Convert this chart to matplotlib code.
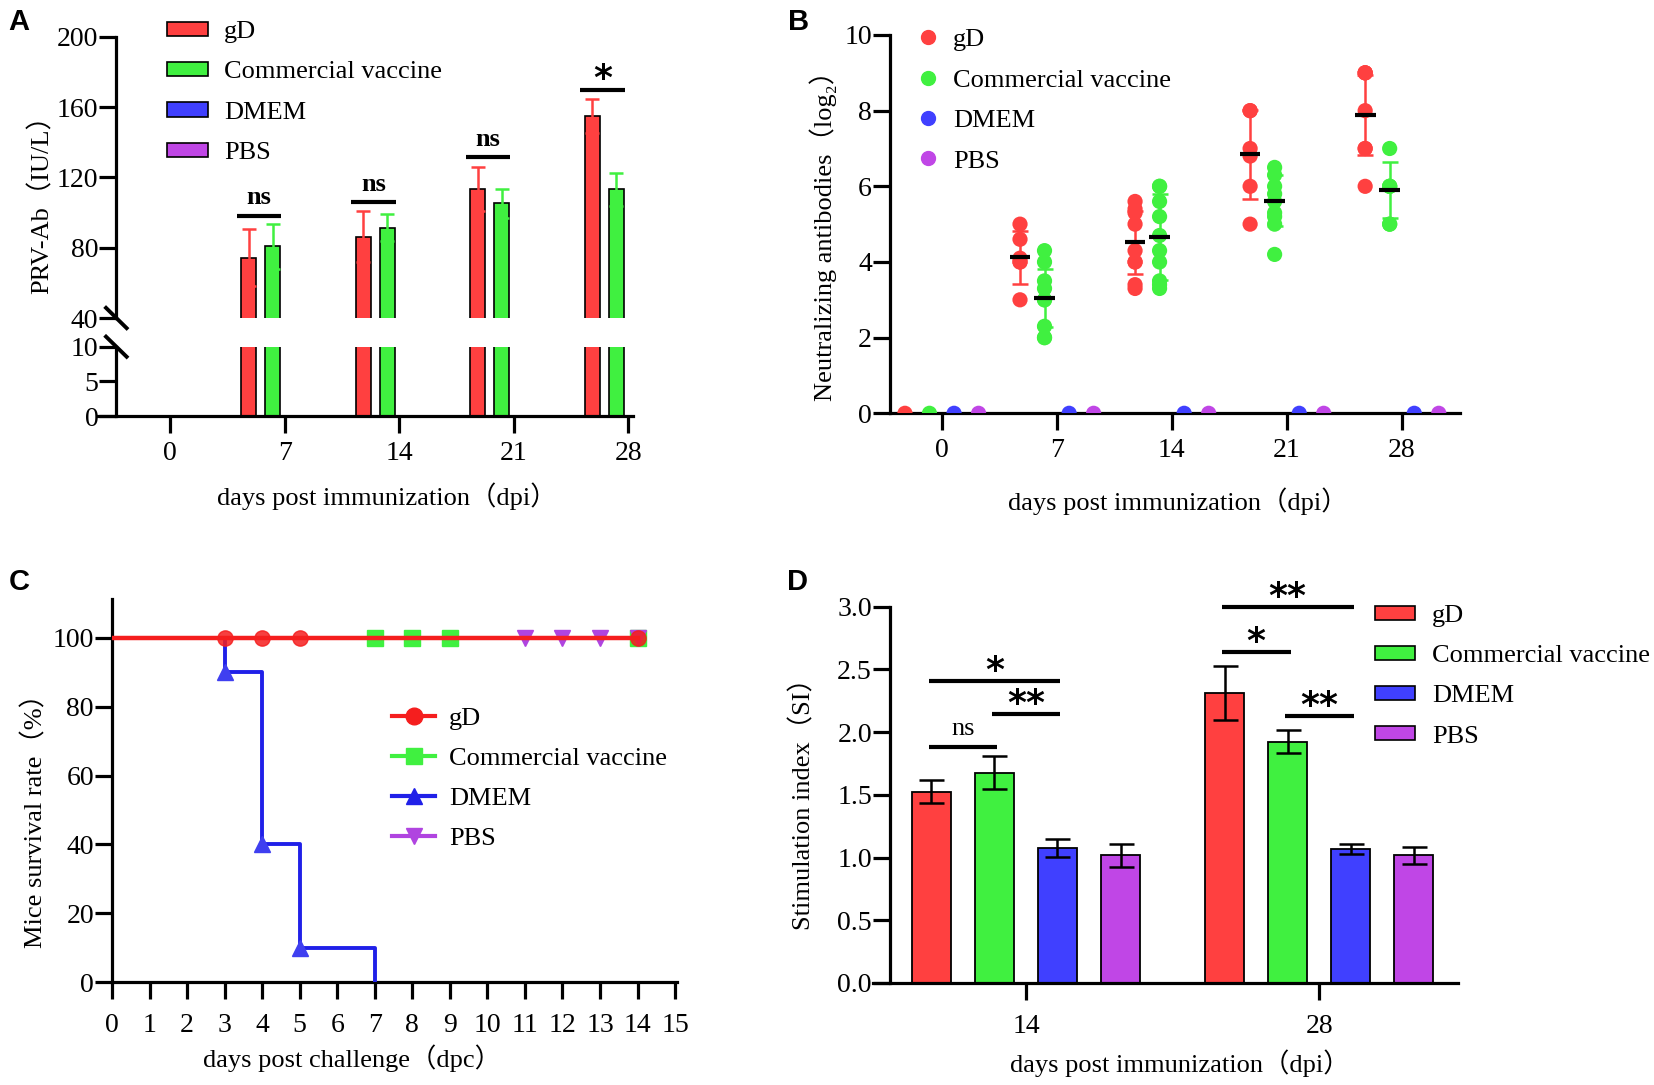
import matplotlib.pyplot as plt
import matplotlib.transforms as mtransforms
from matplotlib.patches import Patch
from matplotlib.lines import Line2D
import numpy as np

plt.rcParams['font.family'] = ['Liberation Serif', 'Noto Sans CJK SC', 'DejaVu Sans']
plt.rcParams['axes.linewidth'] = 2.3

W, H = 1654, 1085

# ---- shared ----
groups = ['gD', 'Commercial vaccine', 'DMEM', 'PBS']
colors = ['#FF4040', '#40F040', '#4040FF', '#C046E6']

# ---- A: PRV-Ab ----
dpi_days = ['0', '7', '14', '21', '28']
prv_gd = [0, 74.3, 86.3, 113.5, 154.8]
prv_gd_sd = [0, 16.3, 14.5, 12.4, 9.7]
prv_cv = [0, 80.8, 91.4, 105.3, 113.1]
prv_cv_sd = [0, 12.7, 7.8, 8.2, 9.5]
prv_dmem = [0, 0, 0, 0, 0]
prv_pbs = [0, 0, 0, 0, 0]
prv_sig = ['ns', 'ns', 'ns', '*']          # days 7..28
prv_sig_y = [98.3, 105.7, 131.6, 169.6]

# ---- B: neutralizing antibodies ----
nab_gd = [[0], [5.0, 4.6, 4.0, 4.0, 4.1, 3.0],
          [5.6, 5.4, 5.3, 5.0, 4.3, 4.0, 4.0, 3.4, 3.3],
          [8.0, 8.0, 7.0, 6.8, 6.0, 5.0],
          [9.0, 9.0, 9.0, 8.0, 7.0, 7.0, 6.0]]
nab_gd_mean = [0, 4.12, 4.52, 6.85, 7.89]
nab_gd_sd = [0, 0.71, 0.84, 1.18, 1.06]
nab_cv = [[0], [4.3, 4.0, 3.5, 3.3, 3.0, 3.0, 2.3, 2.0, 2.0],
          [6.0, 6.0, 5.6, 5.2, 4.7, 4.3, 4.0, 3.5, 3.4, 3.3],
          [6.5, 6.3, 6.0, 5.8, 5.6, 5.3, 5.2, 5.0, 4.2],
          [7.0, 6.0, 6.0, 6.0, 5.0, 5.0]]
nab_cv_mean = [0, 3.04, 4.67, 5.62, 5.89]
nab_cv_sd = [0, 0.77, 1.14, 0.68, 0.74]
nab_dmem = [[0], [0], [0], [0], [0]]
nab_pbs = [[0], [0], [0], [0], [0]]

# ---- C: survival ----
dpc_ticks = list(range(16))
surv_gd_t, surv_gd = [0, 14], [100, 100]
surv_cv_t, surv_cv = [0, 14], [100, 100]
surv_pbs_t, surv_pbs = [0, 14], [100, 100]
surv_dmem_t, surv_dmem = [0, 3, 4, 5, 7], [100, 90, 40, 10, 0]
mark_gd_t, mark_gd = [3, 4, 5, 14], [100, 100, 100, 100]
mark_cv_t, mark_cv = [7, 8, 9, 14], [100, 100, 100, 100]
mark_pbs_t, mark_pbs = [11, 12, 13, 14], [100, 100, 100, 100]
mark_dmem_t, mark_dmem = [3, 4, 5], [90, 40, 10]

# ---- D: stimulation index ----
si_days = ['14', '28']
si_gd, si_gd_sd = [1.525, 2.312], [0.094, 0.215]
si_cv, si_cv_sd = [1.677, 1.923], [0.135, 0.090]
si_dmem, si_dmem_sd = [1.075, 1.066], [0.070, 0.042]
si_pbs, si_pbs_sd = [1.017, 1.017], [0.094, 0.070]
# (day index, bar a, bar b, line y, label)
si_sig = [(0, 0, 1, 1.88, 'ns'), (0, 1, 2, 2.145, '**'), (0, 0, 2, 2.41, '*'),
          (1, 0, 1, 2.64, '*'), (1, 0, 2, 2.997, '**'), (1, 1, 2, 2.127, '**')]

TICK = 20
LAB = 19
LEG = 19


def rect(x0, y0, x1, y1):
    return [x0 / W, 1 - y1 / H, (x1 - x0) / W, (y1 - y0) / H]


def style(ax, left_at=None, xpad=6):
    for s in ['top', 'right']:
        ax.spines[s].set_visible(False)
    if left_at is not None:
        ax.spines['left'].set_position(('data', left_at))
    ax.tick_params(direction='out', length=12, width=2.3, labelsize=TICK)
    ax.tick_params(axis='y', pad=1)
    ax.tick_params(axis='x', pad=xpad)


fig = plt.figure(figsize=(W / 100, H / 100), dpi=100)

# ================= A =================
offs = [-0.314, -0.105, 0.105, 0.314]
bw = 0.13
xa = np.arange(len(dpi_days))
a_xlim = (-0.63, 4.04)
a_left = -0.47
ax_at = fig.add_axes(rect(98, 36.7, 633, 318))
ax_ab = fig.add_axes(rect(98, 346.7, 633, 416))
for ax in (ax_at, ax_ab):
    for vals, c, o in zip([prv_gd, prv_cv, prv_dmem, prv_pbs], colors, offs):
        ax.bar(xa + o, vals, bw, color=c, edgecolor='black', linewidth=1.2, zorder=2)
    ax.set_xlim(*a_xlim)
    style(ax, a_left)
ax_at.errorbar(xa + offs[0], prv_gd, yerr=prv_gd_sd, fmt='none', ecolor=colors[0],
               elinewidth=1.8, capsize=5, capthick=1.8, zorder=3)
ax_at.errorbar(xa + offs[1], prv_cv, yerr=prv_cv_sd, fmt='none', ecolor=colors[1],
               elinewidth=1.8, capsize=5, capthick=1.8, zorder=3)
ax_at.set_ylim(40, 200)
ax_at.set_yticks([40, 80, 120, 160, 200])
ax_at.spines['bottom'].set_visible(False)
ax_at.set_xticks([])
ax_ab.set_ylim(0, 10)
ax_ab.set_yticks([0, 5, 10])
ax_ab.set_xticks(xa)
ax_ab.set_xticklabels(dpi_days)
for i, (lab, y) in enumerate(zip(prv_sig, prv_sig_y)):
    p = i + 1
    ax_at.plot([p - 0.42, p - 0.03], [y, y], color='black', lw=3, solid_capstyle='butt',
               clip_on=False)
    if lab == 'ns':
        ax_at.annotate(lab, (p - 0.225, y), xytext=(0, 8), textcoords='offset points',
                       ha='center', va='baseline', fontsize=19, fontweight='bold')
    else:
        ax_at.annotate(lab, (p - 0.225, y), xytext=(0, 1), textcoords='offset points',
                       ha='center', va='baseline', fontsize=26, fontweight='bold',
                       family='DejaVu Sans')
# break marks
for ax, yc, dy in [(ax_at, 0.0, 0.036), (ax_ab, 1.0, 0.145)]:
    tr = mtransforms.blended_transform_factory(ax.transData, ax.transAxes)
    ax.plot([a_left - 0.09, a_left + 0.09], [yc + dy, yc - dy], color='black', lw=2.8,
            transform=tr, clip_on=False)
fig.text(41 / W, 1 - 198 / H, 'PRV-Ab（IU/L）', rotation=90, ha='center', va='center',
         fontsize=LAB)
fig.text(387 / W, 1 - 496 / H, 'days post immunization（dpi）', ha='center', va='center',
         fontsize=LAB)
fig.legend([Patch(facecolor=c, edgecolor='black', lw=1.2) for c in colors], groups,
           loc='upper left', bbox_to_anchor=(167 / W, 1 - 21 / H), frameon=False,
           borderpad=0, borderaxespad=0, fontsize=LEG, handlelength=1.55,
           handleheight=0.45, handletextpad=0.6, labelspacing=0.70)

# ================= B =================
ax_b = fig.add_axes(rect(890, 35, 1459.5, 413.3))
xb = np.arange(len(dpi_days))
offs_b = [-0.32, -0.107, 0.107, 0.32]
for pts_all, c, o in zip([nab_gd, nab_cv, nab_dmem, nab_pbs], colors, offs_b):
    for i, pts in enumerate(pts_all):
        ax_b.scatter(np.full(len(pts), xb[i] + o), pts, s=120, color=c, edgecolors='none',
                     zorder=3)
for mean, sd, c, o in [(nab_gd_mean, nab_gd_sd, colors[0], offs_b[0]),
                       (nab_cv_mean, nab_cv_sd, colors[1], offs_b[1])]:
    for i in range(1, len(mean)):
        ax_b.errorbar(xb[i] + o, mean[i], yerr=sd[i], fmt='none', ecolor=c,
                      elinewidth=1.8, capsize=6, capthick=1.8, zorder=4)
        ax_b.hlines(mean[i], xb[i] + o - 0.09, xb[i] + o + 0.09, color='black', lw=3,
                    zorder=5)
ax_b.set_xlim(-0.45, 4.5)
ax_b.set_ylim(0, 10)
ax_b.set_yticks([0, 2, 4, 6, 8, 10])
ax_b.set_xticks(xb)
ax_b.set_xticklabels(dpi_days)
style(ax_b)
fig.text(823 / W, 1 - 229 / H, 'Neutralizing antibodies（log₂）', rotation=90,
         ha='center', va='center', fontsize=LAB)
fig.text(1178 / W, 1 - 501 / H, 'days post immunization（dpi）', ha='center',
         va='center', fontsize=LAB)
fig.legend([Line2D([], [], marker='o', ls='none', color=c, markersize=10) for c in colors],
           groups, loc='upper left', bbox_to_anchor=(915 / W, 1 - 28 / H), frameon=False,
           borderpad=0, borderaxespad=0, fontsize=LEG, handlelength=1.0,
           handletextpad=0.45, labelspacing=0.64)

# ================= C =================
ax_c = fig.add_axes(rect(112, 599, 677, 982))
c_cols = ['#F51E1E', '#40F040', '#2020E8', '#B044E0']
ax_c.plot(surv_cv_t, surv_cv, color=c_cols[1], lw=2.8, zorder=2)
ax_c.plot(mark_cv_t, mark_cv, 's', color=c_cols[1], ms=11, zorder=2)
ax_c.plot(surv_pbs_t, surv_pbs, color=c_cols[3], lw=2.8, zorder=2)
ax_c.plot(mark_pbs_t, mark_pbs, 'v', color=c_cols[3], ms=12, zorder=2)
ax_c.step(surv_dmem_t, surv_dmem, where='post', color=c_cols[2], lw=2.8, zorder=3)
ax_c.plot(mark_dmem_t, mark_dmem, '^', color='#3F3FF0', ms=12, zorder=3)
ax_c.plot(surv_gd_t, surv_gd, color=c_cols[0], lw=3.2, zorder=4)
ax_c.plot(mark_gd_t, mark_gd, 'o', color=c_cols[0], ms=11, zorder=4, alpha=0.85)
ax_c.set_xlim(0, 15.05)
ax_c.set_ylim(0, 111.3)
ax_c.set_xticks(dpc_ticks)
ax_c.set_yticks([0, 20, 40, 60, 80, 100])
style(ax_c, xpad=10)
fig.text(35 / W, 1 - 815 / H, 'Mice survival rate（%）', rotation=90, ha='center',
         va='center', fontsize=LAB)
fig.text(352 / W, 1 - 1058 / H, 'days post challenge（dpc）', ha='center', va='center',
         fontsize=LAB)
c_marks = ['o', 's', '^', 'v']
fig.legend([Line2D([], [], color=c, lw=3, marker=m, ms=12) for c, m in zip(c_cols, c_marks)],
           groups, loc='upper left', bbox_to_anchor=(392 / W, 1 - 707 / H), frameon=False,
           borderpad=0, borderaxespad=0, fontsize=LEG, handlelength=1.63,
           handletextpad=0.53, labelspacing=0.62)

# ================= D =================
ax_d = fig.add_axes(rect(873, 606.5, 1458, 983))
xd = np.arange(len(si_days))
offs_d = [-0.3225, -0.1075, 0.1075, 0.3225]
bwd = 0.135
for vals, sds, c, o in zip([si_gd, si_cv, si_dmem, si_pbs],
                           [si_gd_sd, si_cv_sd, si_dmem_sd, si_pbs_sd], colors, offs_d):
    ax_d.bar(xd + o, vals, bwd, color=c, edgecolor='black', linewidth=1.3, zorder=2)
    ax_d.errorbar(xd + o, vals, yerr=sds, fmt='none', ecolor='black', elinewidth=1.8,
                  capsize=9, capthick=1.8, zorder=3)
ax_d.set_xlim(-0.522, 1.474)
ax_d.set_ylim(0, 3.0)
ax_d.set_yticks([0, 0.5, 1.0, 1.5, 2.0, 2.5, 3.0])
ax_d.set_yticklabels(['0.0', '0.5', '1.0', '1.5', '2.0', '2.5', '3.0'])
ax_d.set_xticks(xd)
ax_d.set_xticklabels(si_days)
style(ax_d, -0.464, xpad=10)
for g, a, b, y, lab in si_sig:
    x0 = xd[g] + offs_d[a] - 0.01
    x1 = xd[g] + offs_d[b] + 0.01
    ax_d.plot([x0, x1], [y, y], color='black', lw=3, solid_capstyle='butt', clip_on=False)
    if lab == 'ns':
        ax_d.annotate(lab, ((x0 + x1) / 2, y), xytext=(0, 9), textcoords='offset points',
                      ha='center', va='baseline', fontsize=19, annotation_clip=False)
    else:
        ax_d.annotate(lab, ((x0 + x1) / 2, y), xytext=(0, 0), textcoords='offset points',
                      ha='center', va='baseline', fontsize=26, fontweight='bold',
                      family='DejaVu Sans', annotation_clip=False)
fig.text(803 / W, 1 - 798 / H, 'Stimulation index（SI）', rotation=90, ha='center',
         va='center', fontsize=LAB)
fig.text(1180 / W, 1 - 1063 / H, 'days post immunization（dpi）', ha='center',
         va='center', fontsize=LAB)
fig.legend([Patch(facecolor=c, edgecolor='black', lw=1.2) for c in colors], groups,
           loc='upper left', bbox_to_anchor=(1375 / W, 1 - 605 / H), frameon=False,
           borderpad=0, borderaxespad=0, fontsize=LEG, handlelength=1.52,
           handleheight=0.45, handletextpad=0.65, labelspacing=0.69)

# panel letters
for lab, x, y in [('A', 8, 22), ('B', 788, 22), ('C', 9, 582), ('D', 787, 582)]:
    fig.text(x / W, 1 - y / H, lab, family='Liberation Sans', fontweight='bold',
             fontsize=21, ha='left', va='center')

fig.savefig('out.png', dpi=100)
